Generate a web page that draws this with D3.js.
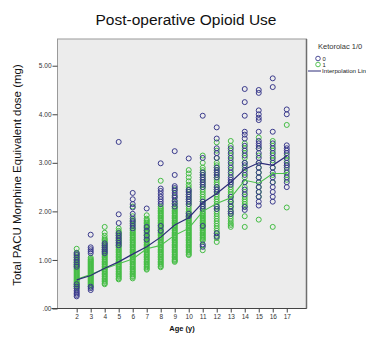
<!DOCTYPE html>
<html><head><meta charset="utf-8">
<script src="https://cdn.jsdelivr.net/npm/d3@7"></script>
<style>
html,body{margin:0;padding:0;background:#fff;overflow:hidden}
svg{display:block;font-family:"Liberation Sans",Arial,sans-serif}
</style></head>
<body><svg id="c" width="366" height="337"></svg>
<script>
const title = "Post-operative Opioid Use";
const yTitle = "Total PACU Morphine Equivalent dose (mg)";
const xTitle = "Age (y)";
const legendTitle = "Ketorolac 1/0";
const groupLabels = ["0", "1"];
const lineLabel = "Interpolation Line";
const ages = [2,3,4,5,6,7,8,9,10,11,12,13,14,15,16,17];
const yTicks = [0,1,2,3,4,5];
const yTickLabels = [".00","1.00","2.00","3.00","4.00","5.00"];

// Ketorolac = 1 (green) observed values per age
const green = [
  [1.23,1.15,1.12,1.1,1.07,1.05,1.02,1.0,0.98,0.96,0.94,0.92,0.9,0.88,0.86,0.84,0.82,0.8,0.78,0.76,0.74,0.72,0.7,0.68,0.66,0.64,0.62,0.6,0.58,0.56,0.54,0.52,0.5,0.48,0.46,0.45,0.42],
  [1.05,1.02,1.0,0.98,0.96,0.94,0.92,0.9,0.88,0.86,0.84,0.82,0.8,0.78,0.76,0.74,0.72,0.7,0.68,0.66,0.64,0.62,0.6,0.58,0.56,0.54,0.52,0.5,0.48,0.45],
  [1.68,1.56,1.5,1.45,1.42,1.4,1.37,1.35,1.32,1.3,1.27,1.25,1.22,1.2,1.17,1.15,1.12,1.1,1.07,1.05,1.02,1.0,0.97,0.95,0.92,0.9,0.87,0.85,0.82,0.8,0.77,0.75,0.72,0.7,0.67,0.65,0.62,0.6,0.57,0.55,0.52,0.5],
  [1.65,1.6,1.57,1.55,1.52,1.5,1.47,1.45,1.42,1.4,1.37,1.35,1.32,1.3,1.27,1.25,1.22,1.2,1.17,1.15,1.12,1.1,1.07,1.05,1.02,1.0,0.97,0.95,0.92,0.9,0.87,0.85,0.82,0.8,0.77,0.75,0.72,0.7,0.67,0.65,0.62,0.6],
  [2.1,1.9,1.82,1.78,1.72,1.66,1.62,1.6,1.57,1.55,1.52,1.5,1.47,1.45,1.42,1.4,1.37,1.35,1.32,1.3,1.27,1.25,1.22,1.2,1.17,1.15,1.12,1.1,1.07,1.05,1.02,1.0,0.97,0.95,0.92,0.9,0.87,0.85,0.82,0.8,0.77,0.75,0.72,0.7,0.67,0.65,0.62],
  [1.92,1.85,1.82,1.8,1.77,1.75,1.72,1.7,1.67,1.65,1.62,1.6,1.57,1.55,1.52,1.5,1.47,1.45,1.42,1.4,1.37,1.35,1.32,1.3,1.27,1.25,1.22,1.2,1.17,1.15,1.12,1.1,1.07,1.05,1.02,1.0,0.97,0.95,0.92,0.9,0.87,0.85,0.82,0.8],
  [2.63,2.1,2.07,2.05,2.02,2.0,1.97,1.95,1.92,1.9,1.87,1.85,1.82,1.8,1.77,1.75,1.72,1.7,1.67,1.65,1.62,1.6,1.57,1.55,1.52,1.5,1.47,1.45,1.42,1.4,1.37,1.35,1.32,1.3,1.27,1.25,1.22,1.2,1.17,1.15,1.12,1.1,1.07,1.05,1.02,1.0,0.97,0.95,0.92,0.9,0.87,0.85],
  [2.45,2.3,2.2,2.15,2.1,2.07,2.05,2.02,2.0,1.97,1.95,1.92,1.9,1.87,1.85,1.82,1.8,1.77,1.75,1.72,1.7,1.67,1.65,1.62,1.6,1.57,1.55,1.52,1.5,1.47,1.45,1.42,1.4,1.37,1.35,1.32,1.3,1.27,1.25,1.22,1.2,1.17,1.15,1.12,1.1,1.07,1.05,1.02,1.0,0.98,0.96],
  [2.85,2.78,2.7,2.62,2.55,2.5,2.45,2.4,2.35,2.3,2.25,2.2,2.15,2.1,2.05,2.0,1.97,1.95,1.92,1.9,1.87,1.85,1.82,1.8,1.77,1.75,1.72,1.7,1.67,1.65,1.62,1.6,1.57,1.55,1.52,1.5,1.47,1.45,1.42,1.4,1.37,1.35,1.32,1.3,1.27,1.25,1.22,1.2,1.17,1.15,1.12,1.1],
  [3.15,3.0,2.9,2.85,2.8,2.75,2.7,2.65,2.6,2.55,2.5,2.45,2.4,2.35,2.3,2.25,2.2,2.15,2.1,2.05,2.0,1.97,1.95,1.92,1.9,1.87,1.85,1.82,1.8,1.77,1.75,1.72,1.7,1.67,1.65,1.62,1.6,1.57,1.55,1.52,1.5,1.47,1.45,1.42,1.4,1.3,1.2],
  [3.42,3.25,3.1,3.0,2.95,2.9,2.85,2.8,2.75,2.7,2.65,2.6,2.55,2.5,2.45,2.4,2.35,2.3,2.25,2.2,2.15,2.1,2.05,2.0,1.95,1.9,1.85,1.8,1.75,1.7,1.65,1.6,1.55,1.5,1.45,1.37],
  [3.45,3.35,3.25,3.15,3.05,2.95,2.85,2.75,2.6,2.5,2.45,2.4,2.35,2.3,2.25,2.2,2.15,2.1,2.05,2.0,1.95,1.9,1.85,1.8,1.75,1.72,1.68],
  [3.4,3.3,3.2,3.1,3.0,2.9,2.8,2.7,2.6,2.5,2.4,2.3,2.25,2.2,2.15,2.1,1.9,1.68],
  [3.52,3.3,3.15,3.0,2.9,2.8,2.7,2.6,2.5,2.4,2.3,1.83],
  [3.45,3.35,3.25,3.15,3.05,2.9,2.75,2.6,1.68],
  [3.78,3.15,3.05,2.95,2.85,2.75,2.65,2.08]
];
// Ketorolac = 0 (blue) observed values per age
const blue = [
  [1.14,1.1,1.05,1.0,0.95,0.9,0.86,0.5,0.45,0.41,0.37,0.34,0.31,0.28,0.25],
  [1.52,1.26,1.22,1.18,1.14,0.45,0.42,0.38],
  [1.34,1.3,1.26,1.22,1.18,1.14],
  [3.43,1.94,1.76,1.55,1.5,1.45,1.4,1.35,1.3],
  [2.38,2.25,2.15,2.08,1.95,1.85,1.8,1.75,1.7,1.65],
  [2.06,1.68,1.6,1.5,1.42],
  [2.99,2.47,2.42,2.36,2.3,2.25,2.2,2.15,1.7,1.6],
  [3.24,2.75,2.52,2.48,2.43,2.38,2.33,2.28,2.22,2.16,2.1],
  [3.09,2.44,2.4,2.35,2.3,2.25,2.2,2.15,1.95,1.9],
  [3.97,3.1,2.8,2.75,2.7,2.65,2.6,2.55,2.5,2.2,2.15,2.1,2.05,1.7,1.32,1.27],
  [3.73,3.5,3.3,3.2,3.1,2.9,2.85,2.8,2.75,2.7,2.5,2.45,2.4,2.1,2.05,1.55,1.48],
  [3.3,3.2,3.1,3.0,2.9,2.8,2.7,2.65,2.6,2.55,2.3,2.2,2.1,2.0,1.95],
  [4.52,4.25,3.97,3.64,3.58,3.5,3.35,3.25,3.15,3.0,2.95,2.85,2.75,2.6,2.45,2.35,2.09,2.03],
  [4.5,4.44,4.08,4.0,3.93,3.88,3.64,3.45,3.4,3.35,3.3,3.2,3.1,3.0,2.9,2.8,2.7,2.6,2.5,2.4,2.3,2.2,2.12],
  [4.74,4.56,3.64,3.4,3.3,3.2,3.1,3.0,2.9,2.8,2.7,2.6,2.5,2.4,2.3,2.2],
  [4.1,4.0,3.36,3.3,3.25,3.2,3.1,3.0,2.95,2.9,2.8,2.7,2.6,2.5]
];
// interpolation (mean) lines
const blueMeans = [0.59,0.68,0.83,0.96,1.12,1.27,1.47,1.72,1.87,2.18,2.37,2.6,2.87,3.0,2.95,3.14];
const greenMeans = [0.6,0.7,0.82,0.92,1.02,1.23,1.3,1.51,1.65,2.0,2.16,2.28,2.64,2.58,2.78,2.78];

const BLUE = "#3a3a8c", GREEN = "#45bd45", BLUE_LINE = "#2c2c78", GREEN_LINE = "#4cc04c";
const R = 2.5;

const svg = d3.select("#c");
const P = {l:57.5, r:306.5, t:39, b:308.5};
const x = d3.scaleLinear().domain([0.63, 18.41]).range([P.l, P.r]);
const y = d3.scaleLinear().domain([0, 5.55]).range([P.b, P.t]);

svg.append("text").attr("x",186).attr("y",25).attr("text-anchor","middle")
  .attr("font-size","15.5px").attr("fill","#111").text(title);

svg.append("rect").attr("x",P.l).attr("y",P.t).attr("width",P.r-P.l).attr("height",P.b-P.t)
  .attr("fill","#ececec").attr("stroke","#9a9a9a").attr("stroke-width",1);
svg.append("line").attr("x1",P.r).attr("x2",P.r).attr("y1",P.t).attr("y2",P.b)
  .attr("stroke","#6e6e6e").attr("stroke-width",1.5);

// axes
const yAxis = d3.axisLeft(y).tickValues(yTicks).tickFormat((d,i)=>yTickLabels[i]).tickSize(5).tickPadding(1);
const gy = svg.append("g").attr("transform",`translate(${P.l},0)`).call(yAxis);
gy.select(".domain").remove();
gy.selectAll("line").attr("stroke","#444");
gy.selectAll("text").attr("font-size","6.5px").attr("fill","#333").attr("font-family","Liberation Sans, Arial, sans-serif");

const xAxis = d3.axisBottom(x).tickValues(ages).tickFormat(d3.format("d")).tickSize(4).tickPadding(2);
const gx = svg.append("g").attr("transform",`translate(0,${P.b})`).call(xAxis);
gx.select(".domain").attr("stroke","#444").attr("d",`M${P.l-6},0H${P.r}`);
gx.selectAll("line").attr("stroke","#444");
gx.selectAll("text").attr("font-size","6.5px").attr("fill","#333").attr("font-family","Liberation Sans, Arial, sans-serif");

svg.append("text").attr("x",182).attr("y",331).attr("text-anchor","middle")
  .attr("font-size","7.5px").attr("font-weight","bold").attr("fill","#111").text(xTitle);
svg.append("text").attr("transform","translate(21,175) rotate(-90)").attr("text-anchor","middle")
  .attr("font-size","11.5px").attr("fill","#111").text(yTitle);

// points
const pts = (arr) => arr.flatMap((vals,i)=>vals.map(v=>({a:ages[i], v})));
const plot = svg.append("g");
plot.selectAll("circle.g").data(pts(green)).enter().append("circle")
  .attr("cx",d=>x(d.a)).attr("cy",d=>y(d.v)).attr("r",R)
  .attr("fill","none").attr("stroke",GREEN).attr("stroke-width",1);
plot.selectAll("circle.b").data(pts(blue)).enter().append("circle")
  .attr("cx",d=>x(d.a)).attr("cy",d=>y(d.v)).attr("r",R)
  .attr("fill","none").attr("stroke",BLUE).attr("stroke-width",1);

const line = d3.line().x((d,i)=>x(ages[i])).y(d=>y(d));
plot.append("path").attr("d",line(greenMeans)).attr("fill","none").attr("stroke",GREEN_LINE).attr("stroke-width",1.1);
plot.append("path").attr("d",line(blueMeans)).attr("fill","none").attr("stroke",BLUE_LINE).attr("stroke-width",1.2);

// legend
const lg = svg.append("g");
lg.append("text").attr("x",318).attr("y",49).attr("font-size","7.5px").attr("fill","#333").text(legendTitle);
[BLUE, GREEN].forEach((c,i)=>{
  lg.append("circle").attr("cx",318).attr("cy",58.5+i*6).attr("r",2.3).attr("fill","none").attr("stroke",c).attr("stroke-width",0.9);
  lg.append("text").attr("x",322.5).attr("y",60.5+i*6).attr("font-size","5.8px").attr("fill","#222").text(groupLabels[i]);
});
lg.append("line").attr("x1",308).attr("x2",321).attr("y1",71).attr("y2",71).attr("stroke",BLUE_LINE).attr("stroke-width",1);
lg.append("text").attr("x",322).attr("y",73.2).attr("font-size","6.2px").attr("fill","#222").text(lineLabel);
</script></body></html>
